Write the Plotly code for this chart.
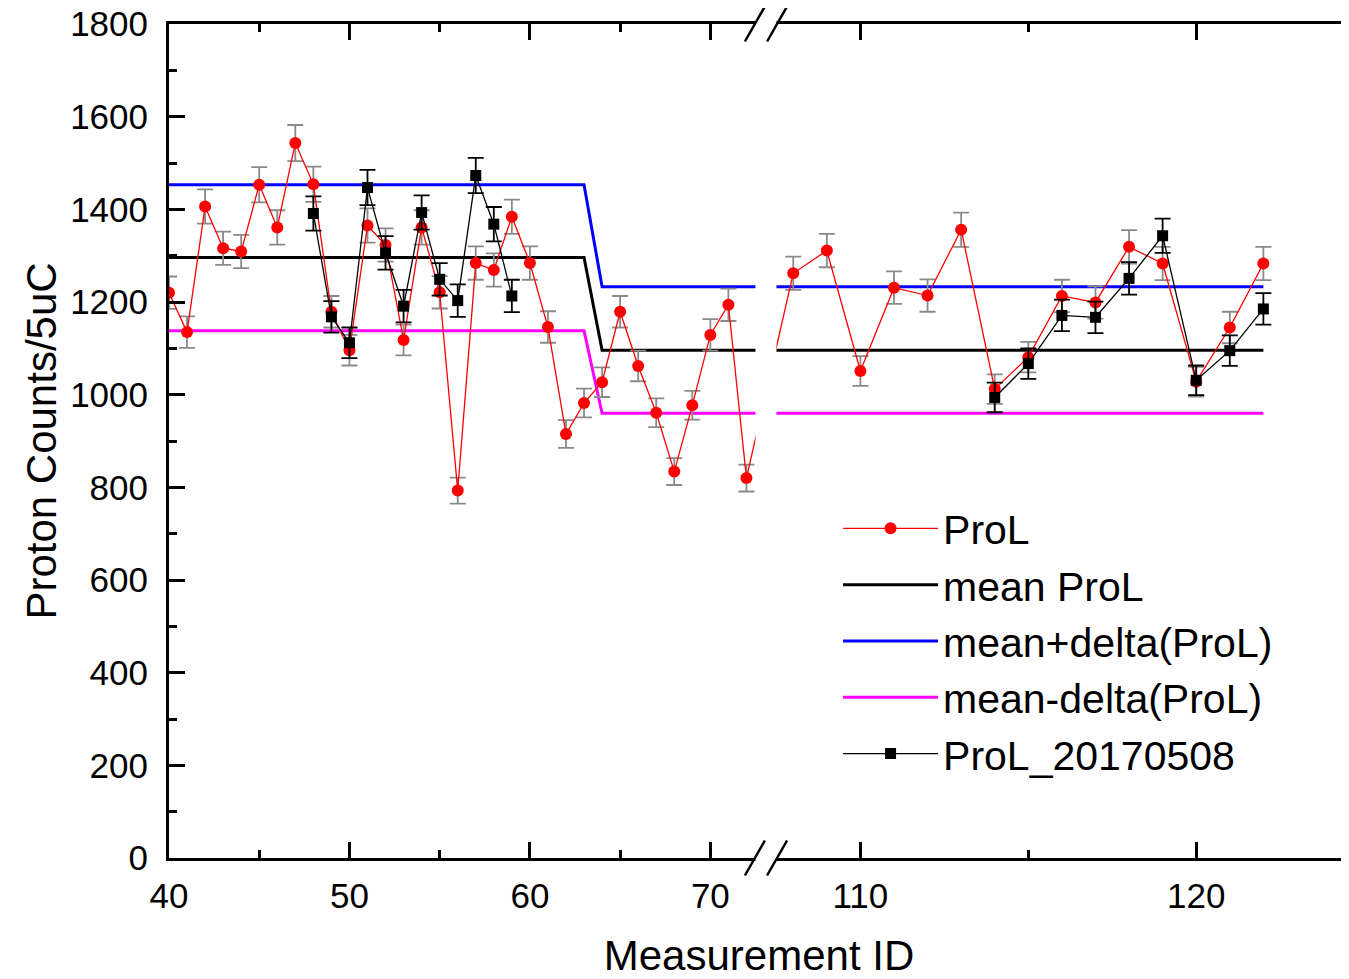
import plotly.graph_objects as go

# ---------------- data ----------------
prol_ids_left = list(range(40, 73))
prol_left = [1220, 1135, 1406, 1316, 1309, 1453, 1361, 1543, 1454, 1179, 1096,
             1365, 1323, 1118, 1361, 1221, 793, 1284, 1269, 1384, 1284, 1146,
             915, 982, 1027, 1179, 1062, 961, 834, 977, 1129, 1194, 820]
prol_err_left = [35, 34, 37, 36, 36, 38, 37, 39, 38, 34, 33,
                 37, 36, 33, 37, 35, 28, 36, 36, 37, 36, 34,
                 30, 31, 32, 34, 33, 31, 29, 31, 34, 35, 29]
prol_ids_right = list(range(108, 123))
prol_right = [1262, 1311, 1051, 1231, 1214, 1356, 1012, 1081, 1213, 1199,
              1319, 1283, 1028, 1145, 1283]
prol_err_right = [36, 36, 32, 35, 35, 37, 32, 33, 35, 35, 36, 36, 32, 34, 36]

p0508_ids_left = list(range(48, 60))
p0508_left = [1391, 1168, 1112, 1447, 1306, 1191, 1393, 1249, 1203, 1473, 1368, 1213]
p0508_err_left = [37, 34, 33, 38, 36, 35, 37, 35, 35, 38, 37, 35]
p0508_ids_right = list(range(114, 123))
p0508_right = [994, 1067, 1171, 1167, 1251, 1343, 1031, 1095, 1185]
p0508_err_right = [32, 33, 34, 34, 35, 37, 32, 33, 34]

level_ids = [40, 63, 64, 122]
mean_prol = [1296, 1296, 1096, 1096]
mean_plus = [1453, 1453, 1233, 1233]
mean_minus = [1138, 1138, 960, 960]

tick_ids = [40, 50, 60, 70, 110, 120]
tick_text = ["40", "50", "60", "70", "110", "120"]
minor_ids = [45, 55, 65, 115]

# ---------------- broken x axis ----------------
LEFT_SEG = (40.0, 72.5)
RIGHT_SEG = (107.5, 124.55)
LEFT_FRAC = 0.4970   # fraction of plot width for left segment
RIGHT_START = 0.5148  # fraction where right segment begins


def bx(v):
    """map measurement ID to broken-axis coordinate (0..1)"""
    if v <= LEFT_SEG[1] + 1e-9:
        return (v - LEFT_SEG[0]) / (LEFT_SEG[1] - LEFT_SEG[0]) * LEFT_FRAC
    return RIGHT_START + (v - RIGHT_SEG[0]) / (RIGHT_SEG[1] - RIGHT_SEG[0]) * (1 - RIGHT_START)


def bxl(vals):
    return [bx(v) for v in vals]


FONT = "Liberation Sans, Arial, sans-serif"

fig = go.Figure()

fig.add_trace(go.Scatter(x=bxl(level_ids), y=mean_prol, mode="lines",
                         line=dict(color="black", width=3), name="mean ProL"))
fig.add_trace(go.Scatter(x=bxl(level_ids), y=mean_plus, mode="lines",
                         line=dict(color="#0000FF", width=3), name="mean+delta(ProL)"))
fig.add_trace(go.Scatter(x=bxl(level_ids), y=mean_minus, mode="lines",
                         line=dict(color="#FF00FF", width=3), name="mean-delta(ProL)"))

fig.add_trace(go.Scatter(
    x=bxl(prol_ids_left + prol_ids_right), y=prol_left + prol_right,
    mode="lines+markers", name="ProL",
    line=dict(color="#FF0000", width=1.3),
    marker=dict(color="#FF0000", size=12, symbol="circle"),
    error_y=dict(type="data", array=prol_err_left + prol_err_right,
                 color="#8a8a8a", thickness=1.8, width=8)))

# the 20170508 series has two separate runs (no connecting line between them)
fig.add_trace(go.Scatter(
    x=bxl(p0508_ids_left) + [None] + bxl(p0508_ids_right),
    y=p0508_left + [None] + p0508_right,
    mode="lines+markers", name="ProL_20170508", connectgaps=False,
    line=dict(color="black", width=1.3),
    marker=dict(color="black", size=11, symbol="square"),
    error_y=dict(type="data", array=p0508_err_left + [0] + p0508_err_right,
                 color="black", thickness=1.8, width=8)))

# gap mask and break marks
shapes = [dict(type="rect", xref="paper", yref="paper",
               x0=LEFT_FRAC, x1=RIGHT_START, y0=-0.012, y1=1.012,
               fillcolor="white", line=dict(width=0), layer="above")]
hdx = 10 / 1181
hdy = 17.5 / 834
for cx in (LEFT_FRAC - 0.0005, RIGHT_START + 0.0005):
    for cy in (0.0, 1.0):
        shapes.append(dict(type="line", xref="paper", yref="paper",
                           x0=cx - hdx, y0=cy - hdy, x1=cx + hdx, y1=cy + hdy,
                           line=dict(color="black", width=2.5), layer="above"))

legend_order = ["ProL", "mean ProL", "mean+delta(ProL)", "mean-delta(ProL)", "ProL_20170508"]
rank = {n: i for i, n in enumerate(legend_order)}
for tr in fig.data:
    tr.legendrank = rank[tr.name]

fig.update_layout(
    width=1341, height=971,
    margin=dict(l=161, r=0, t=16, b=121, autoexpand=False),
    plot_bgcolor="white", paper_bgcolor="white",
    font=dict(family=FONT, color="black"),
    shapes=shapes,
    showlegend=True,
    legend=dict(x=0.567, y=0.435, xanchor="left", yanchor="top",
                font=dict(size=41, family=FONT, color="black"),
                bgcolor="rgba(0,0,0,0)", itemwidth=95, tracegroupgap=0),
    xaxis=dict(range=[0, 1], showgrid=False, zeroline=False,
               showline=True, linecolor="black", linewidth=3, mirror="ticks",
               ticks="inside", ticklen=16, tickwidth=3, tickcolor="black",
               tickmode="array", tickvals=bxl(tick_ids), ticktext=tick_text,
               tickfont=dict(size=35, family=FONT, color="black"),
               ticklabelstandoff=5, ticklabeloverflow="allow",
               minor=dict(tickmode="array", tickvals=bxl(minor_ids), ticks="inside",
                          ticklen=8, tickwidth=3, tickcolor="black", showgrid=False),
               title=dict(text="Measurement ID", font=dict(size=42, family=FONT, color="black"),
                          standoff=30)),
    yaxis=dict(range=[0, 1800], showgrid=False, zeroline=False,
               showline=True, linecolor="black", linewidth=3, mirror=False,
               ticks="inside", ticklen=16, tickwidth=3, tickcolor="black",
               dtick=200, tick0=0,
               tickfont=dict(size=35, family=FONT, color="black"),
               ticklabelstandoff=11, ticklabeloverflow="allow",
               minor=dict(dtick=100, ticks="inside", ticklen=8, tickwidth=3,
                          tickcolor="black", showgrid=False),
               title=dict(text="Proton Counts/5uC", font=dict(size=42, family=FONT, color="black"),
                          standoff=1)),
)

fig.write_html("out.html")
